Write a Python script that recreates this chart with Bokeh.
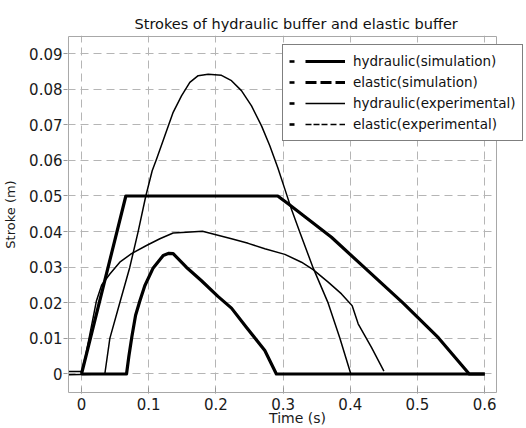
from bokeh.plotting import figure
from bokeh.models import Range1d, FixedTicker, Legend, LegendItem, BoxAnnotation
from bokeh.embed import file_html
from bokeh.resources import INLINE

# ---------------- data ----------------
title_text = "Strokes of hydraulic buffer and elastic buffer"
x_label = "Time (s)"
y_label = "Stroke (m)"

x_ticks = [0, 0.1, 0.2, 0.3, 0.4, 0.5, 0.6]
x_tick_labels = ["0", "0.1", "0.2", "0.3", "0.4", "0.5", "0.6"]
y_ticks = [0, 0.01, 0.02, 0.03, 0.04, 0.05, 0.06, 0.07, 0.08, 0.09]
y_tick_labels = ["0", "0.01", "0.02", "0.03", "0.04", "0.05", "0.06", "0.07", "0.08", "0.09"]

# visible axes box of the reference (data units)
x_box = [-0.01935, 0.61756]
y_box = [-0.0052, 0.0948]

series_names = ["hydraulic(simulation)", "elastic(simulation)",
                "hydraulic(experimental)", "elastic(experimental)"]

hyd_sim_t = [0.0, 0.066, 0.292, 0.3075, 0.372, 0.4216, 0.4787, 0.531, 0.577, 0.60]
hyd_sim_s = [0.0, 0.050, 0.050, 0.0478, 0.0384, 0.0298, 0.0199, 0.0102, 0.0, 0.0]

el_sim_t = [0.0, 0.067, 0.0705, 0.075, 0.0805, 0.0868, 0.0942, 0.1067, 0.1216, 0.130,
            0.1364, 0.156, 0.1786, 0.203, 0.2232, 0.245, 0.2728, 0.290, 0.60]
el_sim_s = [0.0, 0.0, 0.005, 0.0105, 0.0165, 0.0205, 0.0248, 0.0298, 0.0333, 0.0339,
            0.0338, 0.0300, 0.0262, 0.0218, 0.0185, 0.0132, 0.0066, 0.0, 0.0]

hyd_exp_t = [-0.0193, 0.0, 0.006, 0.0223, 0.0300, 0.0422, 0.057, 0.0744, 0.0967, 0.1166,
             0.1364, 0.156, 0.180, 0.2232, 0.248, 0.2728, 0.3026, 0.3274, 0.3447, 0.3671,
             0.3869, 0.4028, 0.4117, 0.4315, 0.450]
hyd_exp_s = [0.0007, 0.0007, 0.0050, 0.0206, 0.0250, 0.0281, 0.0314, 0.0338, 0.0361, 0.0380,
             0.0396, 0.0398, 0.0401, 0.0380, 0.0367, 0.0352, 0.0336, 0.0314, 0.0293, 0.0258,
             0.0225, 0.0192, 0.0141, 0.0075, 0.0008]

el_exp_t = [-0.0193, 0.0347, 0.0422, 0.057, 0.0719, 0.0843, 0.0957, 0.1052, 0.1116, 0.124,
            0.1364, 0.1488, 0.1612, 0.1736, 0.1885, 0.2083, 0.2232, 0.238, 0.253, 0.2679,
            0.2802, 0.292, 0.3025, 0.3115, 0.3249, 0.3447, 0.3671, 0.3844, 0.4008]
el_exp_s = [-0.0002, 0.0, 0.010, 0.020, 0.030, 0.040, 0.050, 0.0571, 0.0603, 0.0669,
            0.0735, 0.0781, 0.0819, 0.0838, 0.0842, 0.0839, 0.0824, 0.0796, 0.0753, 0.0697,
            0.0641, 0.0580, 0.0520, 0.0468, 0.0398, 0.0298, 0.0199, 0.0101, 0.0]

# ---------------- figure ----------------
FONT = "DejaVu Sans"
NAN = float("nan")

p = figure(frame_width=460, frame_height=358, output_backend="svg", toolbar_location=None,
           x_range=Range1d(-0.02083, 0.66369), y_range=Range1d(-0.005478, 0.095084),
           min_border_left=66, min_border_right=0, min_border_top=35, min_border_bottom=35,
           background_fill_color="white", border_fill_color="white")

p.title.text = title_text
p.title.text_font = FONT
p.title.text_font_size = "14.5px"
p.title.text_font_style = "normal"
p.title.text_color = "#111111"
p.title.align = "left"
p.title.offset = 67
p.title.standoff = 7

p.outline_line_color = None

# axes
xa = p.xaxis[0]
xa.ticker = FixedTicker(ticks=x_ticks)
xa.major_label_overrides = {t: l for t, l in zip(x_ticks, x_tick_labels)}
xa.axis_label = x_label
ya = p.yaxis[0]
ya.ticker = FixedTicker(ticks=y_ticks)
ya.major_label_overrides = {t: l for t, l in zip(y_ticks, y_tick_labels)}
ya.axis_label = y_label

for ax in (xa, ya):
    ax.axis_line_color = None
    ax.minor_tick_line_color = None
    ax.major_tick_line_color = "#999999"
    ax.major_label_text_font = FONT
    ax.major_label_text_font_size = "15px"
    ax.major_label_text_color = "#1a1a1a"
    ax.axis_label_text_font = FONT
    ax.axis_label_text_font_style = "normal"
    ax.axis_label_text_color = "#1a1a1a"

xa.major_tick_in = 6
xa.major_tick_out = 0
xa.major_label_standoff = 4
xa.axis_label_text_font_size = "14px"
xa.axis_label_standoff = -3

ya.major_tick_in = 0
ya.major_tick_out = 4
ya.major_label_standoff = 1
ya.axis_label_text_font_size = "13px"
ya.axis_label_standoff = 8

# grid
p.xgrid[0].ticker = FixedTicker(ticks=x_ticks)
p.ygrid[0].ticker = FixedTicker(ticks=y_ticks)
for g in (p.xgrid[0], p.ygrid[0]):
    g.grid_line_color = "#b5b5b5"
    g.grid_line_dash = "8 5"
    g.grid_line_width = 1

# curves (all drawn solid black as in the picture)
p.line(hyd_exp_t, hyd_exp_s, line_color="black", line_width=1.5, line_join="round")
p.line(el_exp_t, el_exp_s, line_color="black", line_width=1.5, line_join="round")
p.line(hyd_sim_t, hyd_sim_s, line_color="black", line_width=3.2, line_join="round")
p.line(el_sim_t, el_sim_s, line_color="black", line_width=3.2, line_join="round")

# blank strip right of the axes box (the legend overflows the box there)
p.add_layout(BoxAnnotation(left=x_box[1], fill_color="white", fill_alpha=1.0,
                           line_color=None))
# axes box outline
p.add_layout(BoxAnnotation(left=x_box[0], right=x_box[1], bottom=y_box[0], top=y_box[1],
                           fill_color=None, fill_alpha=0, line_color="#a8a8a8",
                           line_width=1, line_alpha=1.0))

# legend samples (renderers with no visible data, only used for the legend glyphs)
styles = [
    dict(line_width=3.2, line_dash="0 16 40 100"),
    dict(line_width=3.2, line_dash="0 16 11 4 11 4 10 100"),
    dict(line_width=1.5, line_dash="0 16 40 100"),
    dict(line_width=1.3, line_dash="0 16 6 2 6 2 6 3 6 3 6 100"),
]
items = []
for name, st in zip(series_names, styles):
    r_mark = p.line([NAN], [NAN], line_color="black", line_width=2.6, line_dash="5 80")
    r_line = p.line([NAN], [NAN], line_color="black", **st)
    items.append(LegendItem(label=name, renderers=[r_mark, r_line]))

legend = Legend(items=items, location=(215, 252), orientation="vertical",
                label_text_font=FONT, label_text_font_size="13.5px", label_text_color="#111111",
                glyph_width=56, glyph_height=20, label_height=20, label_standoff=8,
                spacing=1, padding=6, margin=0,
                border_line_color="black", border_line_width=1.6,
                background_fill_color="white", background_fill_alpha=1.0)
p.add_layout(legend)

open("out.html", "w").write(file_html(p, INLINE))
